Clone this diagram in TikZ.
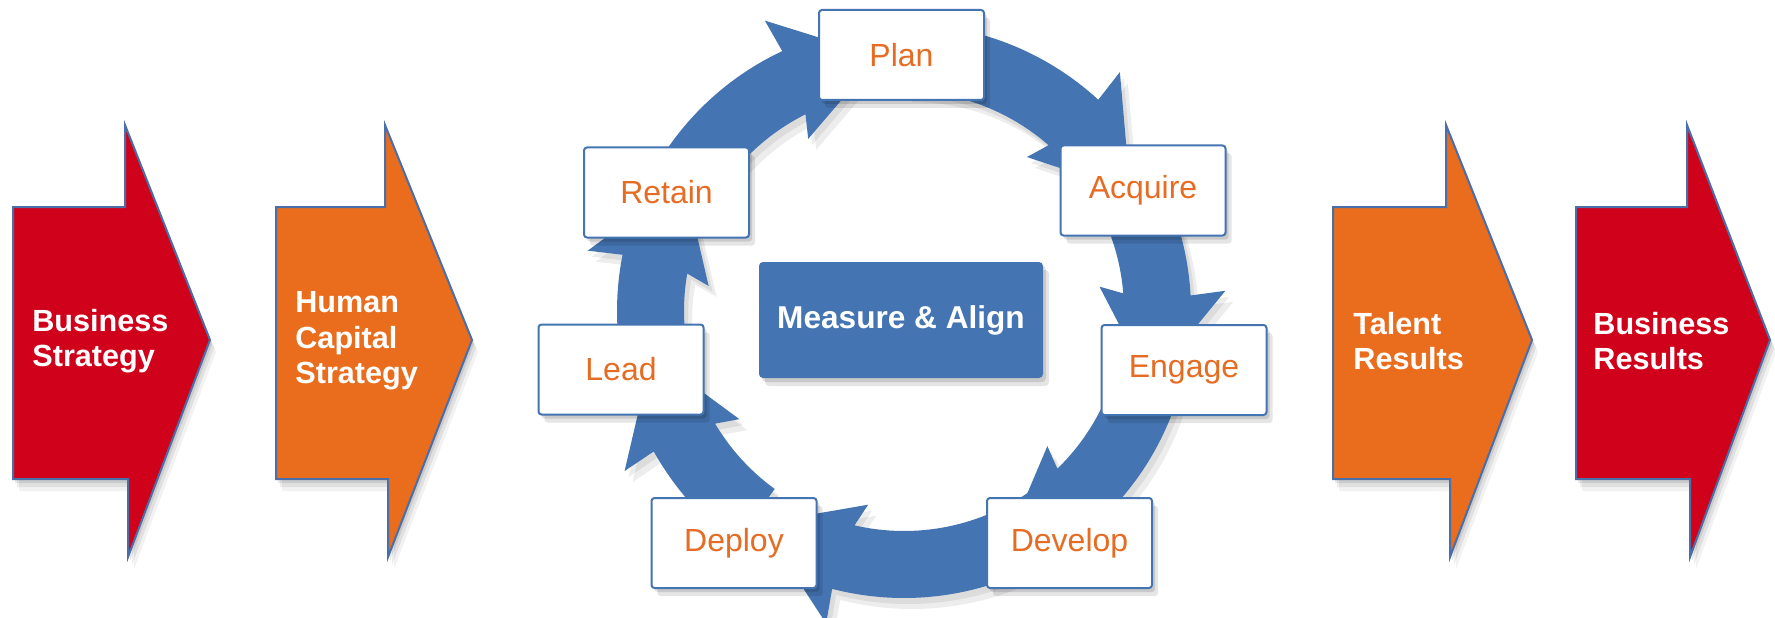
\documentclass[tikz,border=0pt]{standalone}
\usepackage{fontspec}
\setmainfont{Liberation Sans}
\usetikzlibrary{shadows}
\definecolor{cred}{RGB}{208,2,27}
\definecolor{corange}{RGB}{234,109,30}
\definecolor{cblue}{RGB}{68,116,178}
\definecolor{ctext}{RGB}{230,108,35}
\definecolor{coutline}{RGB}{74,110,168}
\newcommand{\bigshape}[5]{%
  \foreach \sx/\sy/\op in {6/-12/0.05,4/-8/0.07,2/-4/0.09}{%
    \fill[black,opacity=\op,shift={(\sx,\sy)}] (#1,410) -- (#2,410) -- (#2,492) -- (#4,277) -- (#3,60) -- (#3,138) -- (#1,138) -- cycle;}
  \path[bigarrow,fill=#5] (#1,410) -- (#2,410) -- (#2,492) -- (#4,277) -- (#3,60) -- (#3,138) -- (#1,138) -- cycle;}
\newcommand{\ringseg}[3]{% start angle, outer barb angle, style
  \pgfmathsetmacro\oe{#2-0.5}\pgfmathsetmacro\ib{#2+3.5}\pgfmathsetmacro\ie{#2+1}\pgfmathsetmacro\ta{#2-20}%
  \fill[#3] (#1:287) arc[start angle=#1,end angle=\oe,radius=287]
      -- (#2:322) -- (\ta:256) -- (\ib:197) -- (\ie:220)
      arc[start angle=\ie,end angle=#1,radius=220] -- cycle;}
\begin{document}
\begin{tikzpicture}[x=0.5pt,y=0.5pt,
  bigarrow/.style={draw=coutline,line width=1pt,line join=miter},
  arrowlabel/.style={text=white,font=\bfseries\fontsize{15.3}{17.8}\selectfont,align=left,anchor=west,inner sep=0pt},
  stepbox/.style={draw=cblue,line width=1pt,fill=white,rounded corners=1.5pt,
    minimum width=82.5pt,minimum height=45pt,inner sep=0pt,text=ctext,
    font=\fontsize{16}{19}\selectfont,
    drop shadow={shadow xshift=3pt,shadow yshift=-4pt,opacity=0.10,fill=black},
    drop shadow={shadow xshift=1.5pt,shadow yshift=-2pt,opacity=0.12,fill=black}},
  centerbox/.style={fill=cblue,rounded corners=2pt,minimum width=142pt,minimum height=58pt,
    inner sep=0pt,text=white,font=\bfseries\fontsize{15.8}{19}\selectfont,
    drop shadow={shadow xshift=3pt,shadow yshift=-4pt,opacity=0.10,fill=black},
    drop shadow={shadow xshift=1.5pt,shadow yshift=-2pt,opacity=0.12,fill=black}},
  ringfill/.style={fill=cblue},
  ringshadow/.style={fill=black,opacity=0.07}
]
\useasboundingbox (0,0) rectangle (1775,617);
\fill[white] (0,0) rectangle (1775,617);

% big arrows
\bigshape{13}{125}{128}{210}{cred}
\bigshape{276}{385}{388}{472}{corange}
\bigshape{1333}{1446}{1450}{1532}{corange}
\bigshape{1576}{1687}{1690}{1770}{cred}

\node[arrowlabel] (bs) at (32,276) {Business\\Strategy};
\node[arrowlabel] (hcs) at (295,276) {Human\\Capital\\Strategy};
\node[arrowlabel] (tr) at (1353,276) {Talent\\Results};
\node[arrowlabel] (br) at (1593,276) {Business\\Results};

% ring of arrows (clockwise)
\begin{scope}[shift={(904,306)}]
  \foreach \sa/\oa in {153/115.6,90/47.9,27/3.6,-12/-46.8,-54/-104,-126/-150.2,191.5/169.2}{%
    \begin{scope}[shift={(4,-6)}]\ringseg{\sa}{\oa}{ringshadow}\end{scope}
    \begin{scope}[shift={(8,-11)}]\ringseg{\sa}{\oa}{ringshadow}\end{scope}
  }
  \foreach \sa/\oa in {153/115.6,90/47.9,27/3.6,-12/-46.8,-54/-104,-126/-150.2,191.5/169.2}{%
    \ringseg{\sa}{\oa}{ringfill}
  }
\end{scope}

\node[centerbox] (measure) at (901,297) {Measure \& Align};

\node[stepbox] (plan) at (901.5,562) {Plan};
\node[stepbox] (acquire) at (1143,426.5) {Acquire};
\node[stepbox] (engage) at (1184,247) {Engage};
\node[stepbox] (develop) at (1069.5,74) {Develop};
\node[stepbox] (deploy) at (734,74) {Deploy};
\node[stepbox] (lead) at (621,247.5) {Lead};
\node[stepbox] (retain) at (666.5,424.5) {Retain};
\end{tikzpicture}
\end{document}
